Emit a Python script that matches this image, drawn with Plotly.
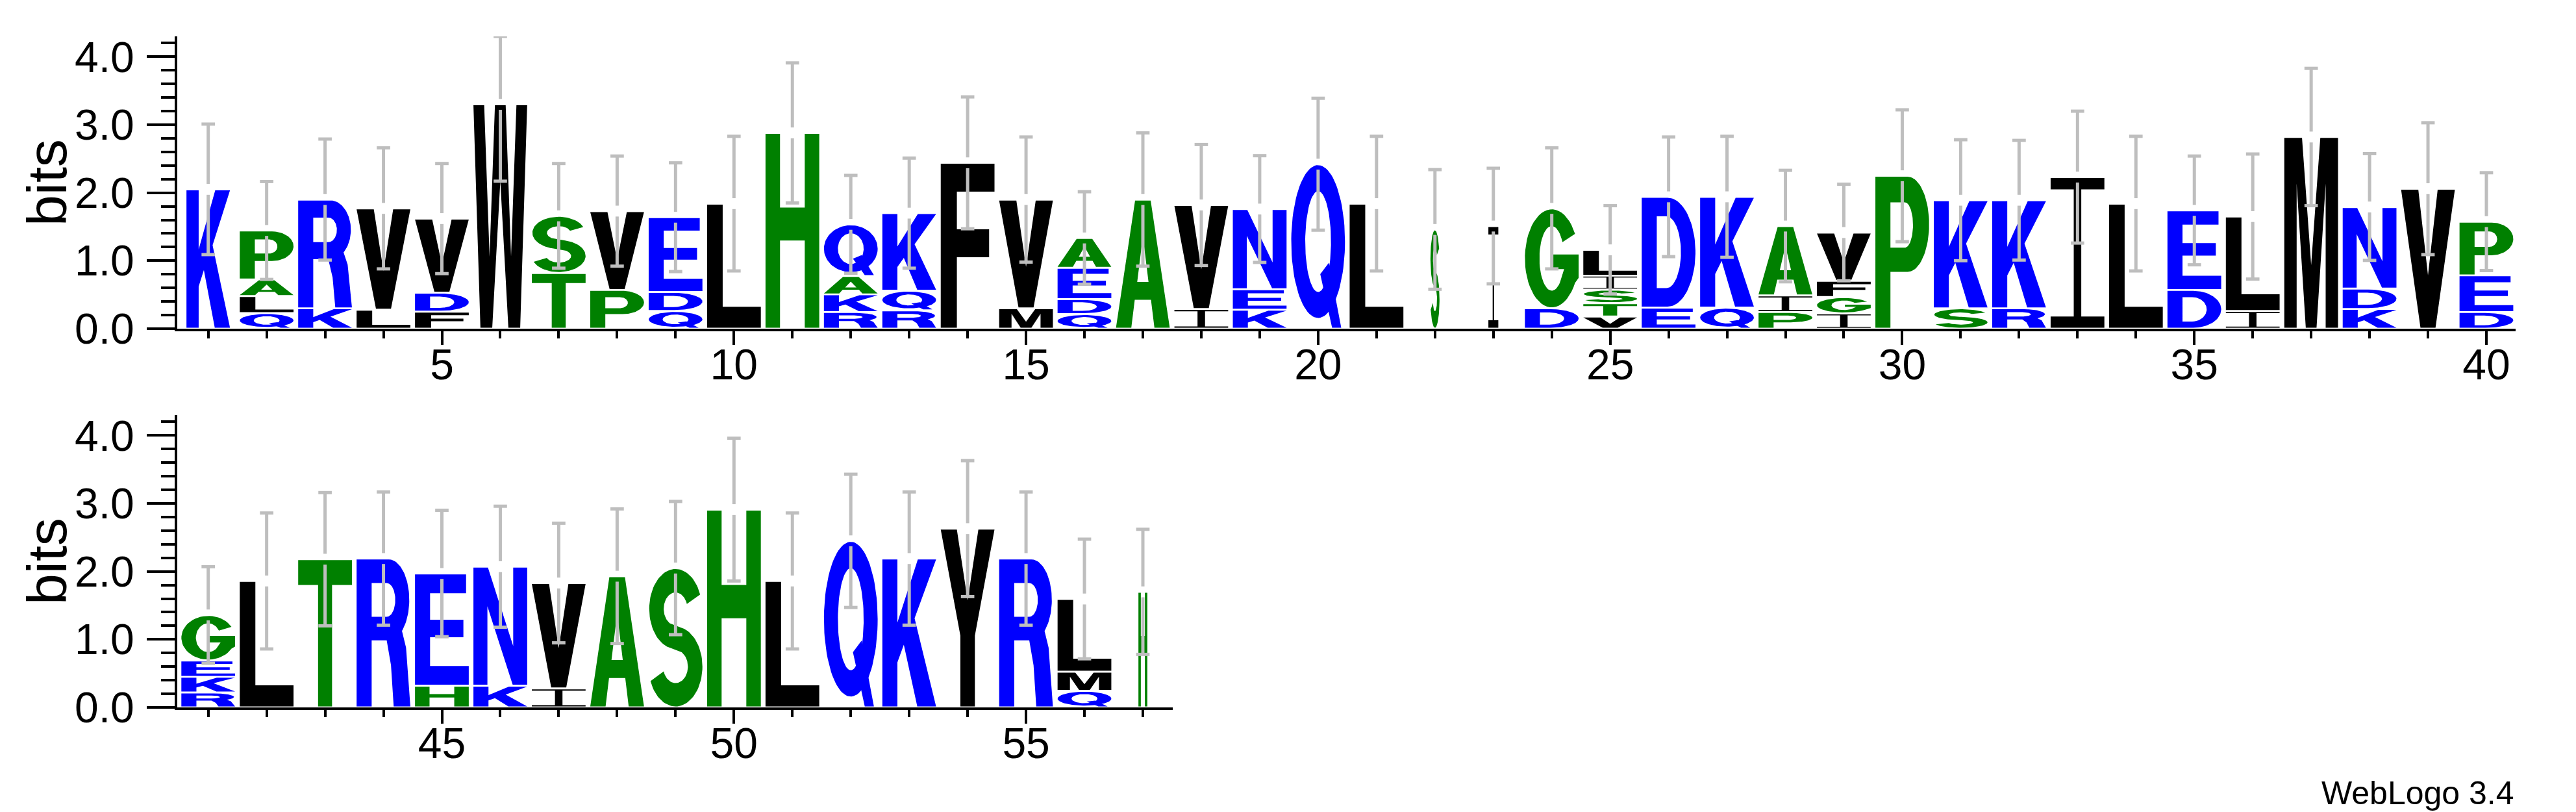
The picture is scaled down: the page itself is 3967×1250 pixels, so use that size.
import numpy as np
import plotly.graph_objects as go

# ------------------------------------------------------------------ data
# Sequence positions shown in each row of the logo
positions_top = list(range(1, 41))
positions_bottom = list(range(41, 58))

# Letters of each stack, listed from bottom to top
stack_letters = [
    "K", "QLAP", "KR", "LV", "FDV", "W", "TS", "PV", "QDE", "L",
    "H", "RKAQ", "RQK", "F", "MV", "QDEA", "A", "IV", "KEN", "Q",
    "L", "S", "I", "DG", "VTSIL", "ED", "QK", "PIA", "IGFV", "P",
    "SK", "RK", "I", "L", "DE", "IL", "M", "KDN", "V", "DEP",
    "RKEG", "L", "T", "R", "HE", "KN", "IV", "A", "S", "H",
    "L", "Q", "K", "Y", "R", "QML", "H",
]

# Height (bits) of each letter, same order as stack_letters
stack_heights = [
    [2.05], [0.23, 0.25, 0.245, 0.72], [0.30, 1.60], [0.28, 1.49], [0.25, 0.28, 1.09],
    [3.30], [0.82, 0.84], [0.57, 1.16], [0.26, 0.28, 1.10], [1.84],
    [2.88], [0.245, 0.26, 0.27, 0.76], [0.27, 0.29, 1.14], [2.44], [0.30, 1.60],
    [0.215, 0.22, 0.46, 0.44], [1.90], [0.29, 1.53], [0.28, 0.30, 1.18], [2.42],
    [1.84], [1.46], [1.51], [0.30, 1.47], [0.18, 0.195, 0.20, 0.205, 0.38],
    [0.31, 1.63], [0.31, 1.63], [0.245, 0.245, 1.02], [0.225, 0.24, 0.24, 0.71], [2.25],
    [0.30, 1.59], [0.30, 1.59], [2.23], [1.84], [0.57, 1.17],
    [0.26, 1.39], [2.82], [0.29, 0.30, 1.20], [2.06], [0.245, 0.54, 0.79],
    [0.22, 0.23, 0.24, 0.67], [1.86], [2.18], [2.19], [0.32, 1.65],
    [0.32, 1.75], [0.28, 1.55], [1.93], [2.05], [2.91],
    [1.86], [2.45], [2.19], [2.63], [2.19], [0.245, 0.28, 1.07], [1.70],
]

# Fraction of sequences without a gap at each position (sets stack width)
column_occupancy = [1.0] * 57
column_occupancy[0] = 0.81
column_occupancy[21] = 0.17
column_occupancy[22] = 0.185
column_occupancy[56] = 0.165

# Half-length (bits) of the error bar at each position
err_half = [
    0.96, 0.72, 0.89, 0.89, 0.81, 1.13, 0.77, 0.81, 0.80, 0.99,
    1.03, 0.72, 0.81, 0.97, 0.92, 0.68, 0.98, 0.89, 0.785, 0.97,
    0.99, 0.88, 0.85, 0.89, 0.65, 0.88, 0.89, 0.82, 0.71, 0.97,
    0.89, 0.88, 0.97, 0.99, 0.80, 0.92, 1.01, 0.785, 0.97, 0.72,
    0.71, 1.00, 0.98, 0.98, 0.93, 0.89, 0.88, 0.99, 0.98, 1.05,
    1.00, 0.98, 0.98, 1.00, 0.98, 0.88, 0.92,
]

y_tick_labels = ["0.0", "1.0", "2.0", "3.0", "4.0"]

# ------------------------------------------------------------------ style
BLUE, GREEN, BLACK = "#0000ff", "#008000", "#000000"
COLOR = {}
for c in "RKDENQ":
    COLOR[c] = BLUE
for c in "SGHTAP":
    COLOR[c] = GREEN
for c in "YVMCLFIW":
    COLOR[c] = BLACK
FULL_WIDTH = 0.92
YMAX = 4.3
INSET = 0.014
ERR_GAP = 0.08
CAP_HALF = 0.115
FONT = "Liberation Sans, Arial, Helvetica, sans-serif"


def arc(cx, cy, rx, ry, a0, a1, n=48):
    t = np.radians(np.linspace(a0, a1, n))
    return list(zip(cx + rx * np.cos(t), cy + ry * np.sin(t)))


def stroke(pts, hx, hy):
    P = np.array(pts, dtype=float)
    Q = P / [hx, hy]
    d = np.gradient(Q, axis=0)
    d /= np.linalg.norm(d, axis=1)[:, None]
    nrm = np.stack([-d[:, 1], d[:, 0]], axis=1)
    left = (Q + nrm) * [hx, hy]
    right = (Q - nrm) * [hx, hy]
    return [tuple(p) for p in left] + [tuple(p) for p in right[::-1]]


def s_outline():
    up = arc(0.5, 0.71, 0.355, 0.205, 20, 250, 60)
    lo = arc(0.5, 0.29, 0.365, 0.205, 70, -160, 60)
    a, b = np.array(up[-1]), np.array(lo[0])
    mid = [tuple(a + (b - a) * f) for f in np.linspace(0, 1, 8)[1:-1]]
    return stroke(up + mid + lo, 0.135, 0.085)


GLYPHS = {
    "A": [[[(0, 0), (0.355, 1), (0.645, 1), (1, 0), (0.715, 0), (0.651, 0.22), (0.349, 0.22), (0.285, 0)],
           [(0.395, 0.36), (0.605, 0.36), (0.5, 0.72)]]],
    "D": [[[(0, 0), (0, 1), (0.48, 1)] + arc(0.48, 0.5, 0.52, 0.5, 90, -90)[1:],
           [(0.28, 0.17), (0.28, 0.83), (0.46, 0.83)] + arc(0.46, 0.5, 0.27, 0.33, 90, -90)[1:]]],
    "E": [[[(0, 0), (0, 1), (0.95, 1), (0.95, 0.83), (0.28, 0.83), (0.28, 0.59), (0.9, 0.59),
            (0.9, 0.43), (0.28, 0.43), (0.28, 0.17), (1, 0.17), (1, 0)]]],
    "F": [[[(0, 0), (0, 1), (1, 1), (1, 0.83), (0.3, 0.83), (0.3, 0.6), (0.9, 0.6),
            (0.9, 0.43), (0.3, 0.43), (0.3, 0)]]],
    "G": [[arc(0.5, 0.5, 0.5, 0.5, 30, 330) + [(1.0, 0.3), (1.0, 0.54), (0.52, 0.54), (0.52, 0.39), (0.73, 0.39)]
           + arc(0.5, 0.5, 0.23, 0.33, -30, -330)]],
    "H": [[[(0, 0), (0, 1), (0.27, 1), (0.27, 0.62), (0.73, 0.62), (0.73, 1), (1, 1), (1, 0),
            (0.73, 0), (0.73, 0.45), (0.27, 0.45), (0.27, 0)]]],
    "I": [[[(0, 0), (1, 0), (1, 0.075), (0.57, 0.075), (0.57, 0.925), (1, 0.925), (1, 1), (0, 1),
            (0, 0.925), (0.43, 0.925), (0.43, 0.075), (0, 0.075)]]],
    "K": [[[(0, 0), (0, 1), (0.28, 1), (0.28, 0.57), (0.66, 1), (1, 1), (0.6, 0.6), (1, 0),
            (0.65, 0), (0.4, 0.42), (0.28, 0.3), (0.28, 0)]]],
    "L": [[[(0, 0), (0, 1), (0.29, 1), (0.29, 0.17), (1, 0.17), (1, 0)]]],
    "M": [[[(0, 0), (0, 1), (0.33, 1), (0.5, 0.33), (0.67, 1), (1, 1), (1, 0), (0.77, 0),
            (0.77, 0.76), (0.6, 0), (0.4, 0), (0.23, 0.76), (0.23, 0)]]],
    "N": [[[(0, 0), (0, 1), (0.27, 1), (0.74, 0.33), (0.74, 1), (1, 1), (1, 0), (0.73, 0),
            (0.26, 0.67), (0.26, 0)]]],
    "P": [[[(0, 0), (0, 1), (0.6, 1)] + arc(0.6, 0.685, 0.4, 0.315, 90, -90)[1:] + [(0.28, 0.37), (0.28, 0)],
           [(0.28, 0.53), (0.28, 0.83), (0.55, 0.83)] + arc(0.55, 0.68, 0.15, 0.15, 90, -90)[1:]]],
    "Q": [[arc(0.5, 0.53, 0.5, 0.47, 0, 360, 90)[:-1], arc(0.5, 0.53, 0.24, 0.31, 0, 360, 90)[:-1]],
          [[(0.54, 0.33), (0.70, 0.40), (0.93, 0.0), (0.76, 0.0)]]],
    "R": [[[(0, 0), (0, 1), (0.6, 1)] + arc(0.6, 0.725, 0.38, 0.275, 90, -50)[1:]
           + [(0.92, 0.40), (1.0, 0.0), (0.69, 0.0), (0.64, 0.28), (0.56, 0.45), (0.28, 0.45), (0.28, 0)],
           [(0.28, 0.61), (0.28, 0.84), (0.56, 0.84)] + arc(0.56, 0.725, 0.16, 0.115, 90, -90)[1:]]],
    "S": [[s_outline()]],
    "T": [[[(0.37, 0), (0.37, 0.83), (0, 0.83), (0, 1), (1, 1), (1, 0.83), (0.63, 0.83), (0.63, 0)]]],
    "V": [[[(0, 1), (0.32, 1), (0.5, 0.38), (0.68, 1), (1, 1), (0.64, 0), (0.36, 0)]]],
    "W": [[[(0, 1), (0.2, 1), (0.3, 0.32), (0.4, 1), (0.6, 1), (0.7, 0.32), (0.8, 1), (1, 1),
            (0.87, 0), (0.65, 0), (0.5, 0.66), (0.35, 0), (0.13, 0)]]],
    "Y": [[[(0, 1), (0.3, 1), (0.5, 0.6), (0.7, 1), (1, 1), (0.635, 0.4), (0.635, 0),
            (0.365, 0), (0.365, 0.4)]]],
}


def signed_area(c):
    a = np.array(c, dtype=float)
    x, y = a[:, 0], a[:, 1]
    return 0.5 * np.sum(x * np.roll(y, -1) - np.roll(x, -1) * y)


def oriented(c, ccw):
    return list(c) if (signed_area(c) > 0) == ccw else list(c)[::-1]


fig = go.Figure()

panels = [(positions_top, "x", "y"), (positions_bottom, "x2", "y2")]
for plist, xa, ya in panels:
    for layer in (0, 1):
        buckets = {}
        for p in plist:
            i = p - 1
            w = FULL_WIDTH * column_occupancy[i]
            x0 = p - w / 2
            ybase = 0.0
            for letter, h in zip(stack_letters[i], stack_heights[i]):
                parts = GLYPHS[letter]
                if layer < len(parts):
                    xs, ys = buckets.setdefault(COLOR[letter], ([], []))
                    y0, hh = ybase + INSET, h - 2 * INSET
                    for ci, contour in enumerate(parts[layer]):
                        c = oriented(contour, ci == 0)
                        c = c + [c[0]]
                        for gx, gy in c:
                            xs.append(x0 + gx * w)
                            ys.append(y0 + gy * hh)
                        xs.append(None)
                        ys.append(None)
                ybase += h
        for col, (xs, ys) in buckets.items():
            fig.add_trace(go.Scatter(
                x=xs, y=ys, mode="lines", fill="toself", fillcolor=col,
                line=dict(width=0, color=col), hoverinfo="skip", showlegend=False,
                xaxis=xa, yaxis=ya,
            ))

    # error bars
    ex, ey = [], []
    for p in plist:
        i = p - 1
        top = sum(stack_heights[i])
        lo = max(top - err_half[i], 0.0)
        hi = min(top + err_half[i], YMAX)
        ex += [p, p, None, p, p, None, p - CAP_HALF, p + CAP_HALF, None, p - CAP_HALF, p + CAP_HALF, None]
        ey += [lo, top - ERR_GAP, None, top + ERR_GAP, hi, None, lo, lo, None, hi, hi, None]
    fig.add_trace(go.Scatter(
        x=ex, y=ey, mode="lines", line=dict(width=5, color="rgb(190,190,190)"),
        hoverinfo="skip", showlegend=False, cliponaxis=False, xaxis=xa, yaxis=ya,
    ))

W, H = 3967, 1250
L_PX = 265
PX_PER_POS = (3866 - L_PX) / (40.5 - 0.47)

axis_common = dict(
    showline=True, linecolor="black", linewidth=4, ticks="outside", tickcolor="black",
    tickwidth=4, showgrid=False, zeroline=False, automargin=False, fixedrange=True,
    tickfont=dict(family=FONT, size=66, color="black"),
)

xaxis_common = dict(axis_common, tickmode="linear", tick0=0, dtick=5, ticklen=21,
                    ticklabelstandoff=-26,
                    minor=dict(ticks="outside", ticklen=11, tickwidth=4, tickcolor="black",
                               dtick=1, tick0=0, showgrid=False))
yaxis_common = dict(axis_common, tickmode="array", tickvals=[0, 1, 2, 3, 4], ticktext=y_tick_labels,
                    ticklen=43, range=[0, YMAX], ticklabelstandoff=6,
                    minor=dict(ticks="outside", ticklen=21, tickwidth=4, tickcolor="black",
                               dtick=0.2, tick0=0, showgrid=False))

top_base, bot_base = 498, 1081
span_px = 450

fig.update_layout(
    width=W, height=H, margin=dict(l=0, r=0, t=0, b=0),
    paper_bgcolor="white", plot_bgcolor="white", showlegend=False,
    xaxis=dict(xaxis_common, domain=[L_PX / W, 3866 / W], range=[0.47, 40.5], anchor="y"),
    yaxis=dict(yaxis_common, domain=[1 - top_base / H, 1 - (top_base - span_px) / H], anchor="x"),
    xaxis2=dict(xaxis_common, domain=[L_PX / W, (L_PX + PX_PER_POS * (57.51 - 40.47)) / W],
                range=[40.47, 57.51], anchor="y2"),
    yaxis2=dict(yaxis_common, domain=[1 - bot_base / H, 1 - (bot_base - span_px) / H], anchor="x2"),
    annotations=[
        dict(text="bits", textangle=-90, x=64 / W, y=1 - (top_base - span_px / 2) / H,
             xref="paper", yref="paper", xanchor="center", yanchor="middle", showarrow=False,
             font=dict(family=FONT, size=86, color="black")),
        dict(text="bits", textangle=-90, x=64 / W, y=1 - (bot_base - span_px / 2) / H,
             xref="paper", yref="paper", xanchor="center", yanchor="middle", showarrow=False,
             font=dict(family=FONT, size=86, color="black")),
        dict(text="WebLogo 3.4", x=3866 / W, y=1 - 1213 / H, xref="paper", yref="paper",
             xanchor="right", yanchor="middle", showarrow=False,
             font=dict(family=FONT, size=50, color="black")),
    ],
)

fig.write_html("out.html")
